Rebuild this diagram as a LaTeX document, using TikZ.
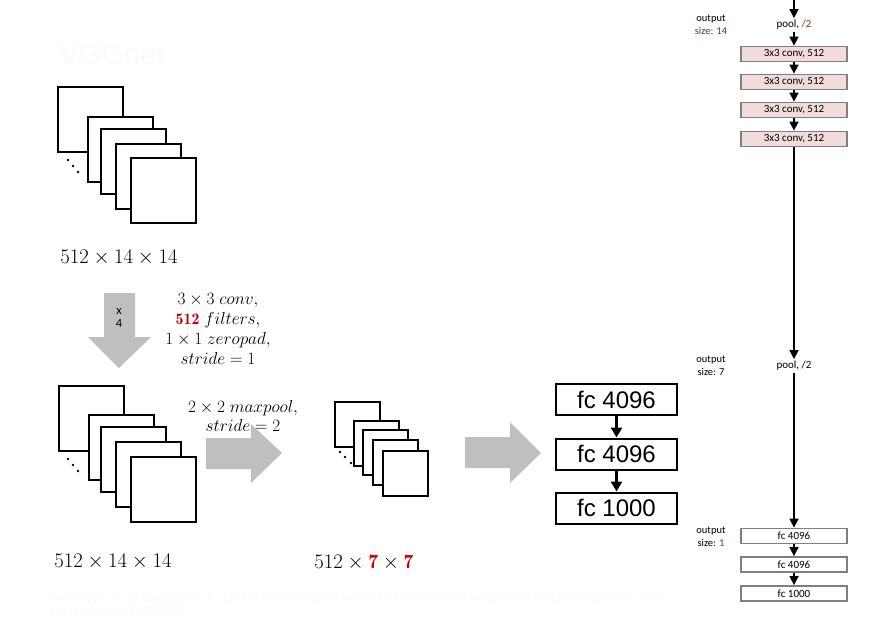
\documentclass[tikz,border=0pt]{standalone}
\usepackage{amsmath}
\usepackage{xcolor}
\usepackage{fontspec}
\newfontfamily\helv{Liberation Sans}
\newfontfamily\calib{Carlito}
\usepackage{tikz}
\usetikzlibrary{arrows.meta,positioning}
\definecolor{vggred}{HTML}{C00000}
\definecolor{blockgray}{HTML}{BFBFBF}
\definecolor{convpink}{HTML}{F2DCDB}
\definecolor{boxgray}{HTML}{7F7F7F}
\definecolor{sizeblue}{HTML}{1F497D}
\definecolor{poolbrown}{HTML}{843C0C}
\definecolor{ghost}{HTML}{F9FAFB}

\begin{document}
\begin{tikzpicture}[x=1pt,y=-1pt,
  sheet/.style={draw,line width=2pt,fill=white},
  fcbig/.style={draw,line width=2pt,minimum width=121pt,minimum height=31pt,inner sep=0pt,
                font=\helv\fontsize{24}{28}\selectfont},
  conv/.style={draw=boxgray,line width=1.8pt,fill=convpink,minimum width=106pt,
               minimum height=15pt,inner sep=0pt,font=\calib\fontsize{11}{12}\selectfont},
  fcsmall/.style={conv,fill=white},
  lbl/.style={font=\calib\fontsize{11}{12}\selectfont,inner sep=2pt},
  outlbl/.style={align=center,font=\calib\fontsize{10.5}{13}\selectfont},
  dimtxt/.style={font=\fontsize{20}{24}\selectfont},
  optext/.style={align=center,font=\fontsize{16}{20}\selectfont},
  flow/.style={-{Triangle[width=9pt,length=9pt]},line width=1.5pt},
  bigflow/.style={-{Triangle[width=11pt,length=10pt]},line width=2.5pt}]
  \useasboundingbox (0,0) rectangle (875,622);

  \node[anchor=west,text=ghost,font=\helv\fontsize{29}{32}\selectfont] (title) at (56,55) {VGGnet};

  \foreach \x/\y in {58/87,88/117,101/129,116/144,131/158}
    \draw[sheet] (\x,\y) rectangle ++(65,65);
  \foreach \x/\y in {68/160,73/166,78/172}
    \fill (\x,\y) circle (1.3pt);
  \node[dimtxt] (dimtop) at (119,258) {$512\times14\times14$};

  \fill[blockgray] (104,293) -- (135,293) -- (135,337) -- (151,337) -- (119,368)
    -- (88,337) -- (104,337) -- cycle;
  \node[align=center,font=\calib\fontsize{12.5}{13}\selectfont] (rep) at (119,318) {x\\4};
  \node[optext] (convtxt) at (218,329)
    {$3\times3\ conv,$\\ \textcolor{vggred}{$\mathbf{512}$}\ $filters,$\\
     $1\times1\ zeropad,$\\ $stride=1$};

  \foreach \x/\y in {59/386,89/415,101/427,116/442,131/457}
    \draw[sheet] (\x,\y) rectangle ++(65,65);
  \foreach \x/\y in {68/459,73/465,78/471}
    \fill (\x,\y) circle (1.3pt);
  \node[dimtxt] (dimmid) at (113,562) {$512\times14\times14$};

  \fill[blockgray] (206,438) -- (251,438) -- (251,424) -- (282,453) -- (251,483)
    -- (251,469) -- (206,469) -- cycle;
  \node[optext,font=\fontsize{16}{19}\selectfont] (pooltxt) at (243,416)
    {$2\times2\ maxpool,$\\ $stride=2$};

  \foreach \x/\y in {335/402,354/421,363/430,373/440,383/451}
    \draw[sheet] (\x,\y) rectangle ++(45,45);
  \foreach \x/\y in {340/452,345/457,351/463}
    \fill (\x,\y) circle (1.3pt);
  \node[dimtxt] (dimlow) at (364,563)
    {$512\times\textcolor{vggred}{\mathbf{7}}\times\textcolor{vggred}{\mathbf{7}}$};

  \fill[blockgray] (465,437) -- (510,437) -- (510,422) -- (541,453) -- (510,483)
    -- (510,468) -- (465,468) -- cycle;

  \node[fcbig] (fca) at (616.5,399.5) {fc 4096};
  \node[fcbig] (fcb) at (616.5,454) {fc 4096};
  \node[fcbig] (fcc) at (616.5,508) {fc 1000};
  \draw[bigflow] (fca) -- (fcb);
  \draw[bigflow] (fcb) -- (fcc);

  \node[outlbl] (out14) at (711,25) {output\\\textcolor{sizeblue}{size: 14}};
  \node[outlbl] (out7) at (711,366) {output\\size: 7};
  \node[outlbl] (out1) at (711,537) {output\\size: \textcolor{poolbrown}{1}};

  \coordinate (entry) at (794,0);
  \node[lbl] (poola) at (794,25) {pool, \textcolor{poolbrown}{/2}};
  \node[conv] (cva) at (794,54) {3x3 conv, 512};
  \node[conv] (cvb) at (794,82) {3x3 conv, 512};
  \node[conv] (cvc) at (794,110) {3x3 conv, 512};
  \node[conv] (cvd) at (794,139) {3x3 conv, 512};
  \node[lbl] (poolb) at (794,366) {pool, /2};
  \node[fcsmall] (sfa) at (794,536) {fc 4096};
  \node[fcsmall] (sfb) at (794,564.5) {fc 4096};
  \node[fcsmall] (sfc) at (794,593.5) {fc 1000};
  \draw[flow] (entry) -- (poola);
  \draw[flow] (poola) -- (cva);
  \draw[flow] (cva) -- (cvb);
  \draw[flow] (cvb) -- (cvc);
  \draw[flow] (cvc) -- (cvd);
  \draw[flow] (cvd) -- (poolb);
  \draw[flow] (poolb) -- (sfa);
  \draw[flow] (sfa) -- (sfb);
  \draw[flow] (sfb) -- (sfc);

  \node[anchor=north west,align=left,text=ghost,font=\helv\fontsize{12.3}{14}\selectfont] (cite) at (48,589)
    {Simonyan, K., \& Zisserman, A. (2014). Very deep convolutional networks for large-scale image recognition. \textit{arXiv}\\
     \textit{preprint arXiv:1409.1556}.};
\end{tikzpicture}
\end{document}
